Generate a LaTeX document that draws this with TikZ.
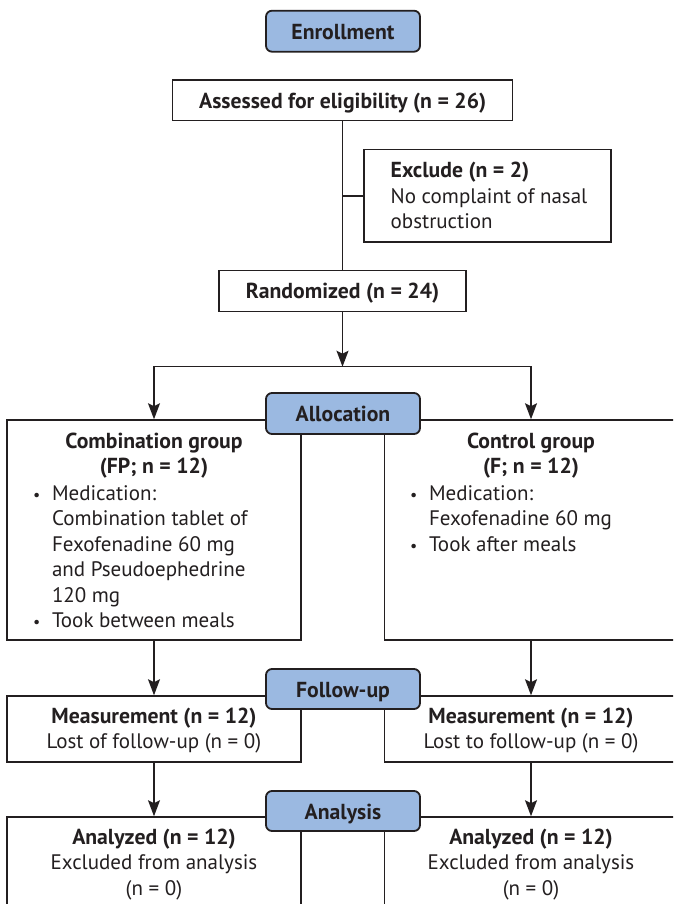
\documentclass[tikz,border=0pt]{standalone}
\usepackage{fontspec}
\setmainfont{PT Sans}
\usetikzlibrary{arrows.meta}
\definecolor{stageblue}{HTML}{9BB9E1}
\definecolor{ink}{HTML}{231F20}
\newcommand\myfs{\fontsize{21}{25.5}\selectfont}
\newcommand\mybf{\fontsize{21.7}{25.5}\selectfont\bfseries}
\newcommand\hd[1]{{\mybf #1}}
\begin{document}
\begin{tikzpicture}[x=1pt,y=-1pt,
  box/.style={draw=ink, line width=1.5pt, inner sep=0pt, minimum width=294pt},
  single/.style={draw=ink, line width=1.5pt, inner sep=0pt, font=\mybf, text=ink, text height=15.5pt, text depth=0pt},
  stage/.style={draw=ink, line width=1.8pt, fill=stageblue, rounded corners=6pt, minimum width=154pt, minimum height=41pt, inner sep=0pt, font=\mybf, text=ink, text height=16pt, text depth=0pt},
  txt/.style={inner sep=0pt, outer sep=0pt, text=ink, font=\myfs},
  arr/.style={draw=ink, line width=1.5pt, -{Stealth[length=16pt,width=12pt,inset=3pt]}},
  ln/.style={draw=ink, line width=1.5pt}]
\useasboundingbox (0,0) rectangle (673,904);
\clip (0,0) rectangle (673,904);
\fill[white] (0,0) rectangle (673,904);

% boxes
\node[single, minimum width=340pt, minimum height=40.7pt] (assess) at (342.7,100.4) {Assessed for eligibility (n = 26)};
\node[box, minimum width=247pt, minimum height=92.3pt] (excl) at (487.5,195.85) {};
\node[single, minimum width=247pt, minimum height=41pt] (rand) at (342.5,291.2) {Randomized (n = 24)};
\node[box, minimum height=220pt] (comb) at (154,530) {};
\node[box, minimum width=293pt, minimum height=220pt] (ctrl) at (531,530) {};
\node[box, minimum height=66pt] (meas1) at (154,729) {};
\node[box, minimum width=293pt, minimum height=66pt] (meas2) at (531,729) {};
\node[box, minimum height=100pt] (anal1) at (154,867) {};
\node[box, minimum width=293pt, minimum height=100pt] (anal2) at (531,867) {};

% texts
\node[txt, anchor=base west] (excltxt) at (390.7,178) {\begin{tabular}[t]{@{}l@{}}\hd{Exclude (n = 2)}\\No complaint of nasal\\obstruction\end{tabular}};
\node[txt, anchor=base] (combtitle) at (154,448) {\begin{tabular}[t]{@{}c@{}}\hd{Combination group}\\\hd{(FP; n = 12)}\end{tabular}};
\node[txt, anchor=base west] (comblist) at (33,500) {\begin{tabular}[t]{@{}p{19pt}@{}l@{}}{\fontsize{16}{16}\selectfont •}&Medication:\\&Combination tablet of\\&Fexofenadine 60 mg\\&and Pseudoephedrine\\&120 mg\\{\fontsize{16}{16}\selectfont •}&Took between meals\end{tabular}};
\node[txt, anchor=base] (ctrltitle) at (531,448) {\begin{tabular}[t]{@{}c@{}}\hd{Control group}\\\hd{(F; n = 12)}\end{tabular}};
\node[txt, anchor=base west] (ctrllist) at (410,500) {\begin{tabular}[t]{@{}p{19pt}@{}l@{}}{\fontsize{16}{16}\selectfont •}&Medication:\\&Fexofenadine 60 mg\\{\fontsize{16}{16}\selectfont •}&Took after meals\end{tabular}};
\node[txt, anchor=base] (meas1txt) at (154,723) {\begin{tabular}[t]{@{}c@{}}\hd{Measurement (n = 12)}\\Lost of follow-up (n = 0)\end{tabular}};
\node[txt, anchor=base] (meas2txt) at (531,723) {\begin{tabular}[t]{@{}c@{}}\hd{Measurement (n = 12)}\\Lost to follow-up (n = 0)\end{tabular}};
\node[txt, anchor=base] (anal1txt) at (154,844) {\begin{tabular}[t]{@{}c@{}}\hd{Analyzed (n = 12)}\\Excluded from analysis\\(n = 0)\end{tabular}};
\node[txt, anchor=base] (anal2txt) at (531,844) {\begin{tabular}[t]{@{}c@{}}\hd{Analyzed (n = 12)}\\Excluded from analysis\\(n = 0)\end{tabular}};

% connectors
\draw[ln] (assess.south) -- (assess.south |- rand.north);
\draw[ln] (excl.west) -- (excl.west -| assess.south);
\coordinate (split) at (342.5,366.7);
\draw[arr] (rand.south) -- (split);
\draw[arr] (split) -| (comb.north);
\draw[arr] (split) -| (ctrl.north);
\draw[arr] (comb.south) -- (meas1.north);
\draw[arr] (ctrl.south) -- (meas2.north);
\draw[arr] (meas1.south) -- (anal1.north);
\draw[arr] (meas2.south) -- (anal2.north);

% stage labels
\node[stage] (enroll) at (343,31.2) {Enrollment};
\node[stage] (alloc) at (343,413.5) {Allocation};
\node[stage, minimum height=40pt] (follow) at (343,689) {Follow-up};
\node[stage, minimum height=40pt] (analysis) at (343,811) {Analysis};
\end{tikzpicture}
\end{document}
